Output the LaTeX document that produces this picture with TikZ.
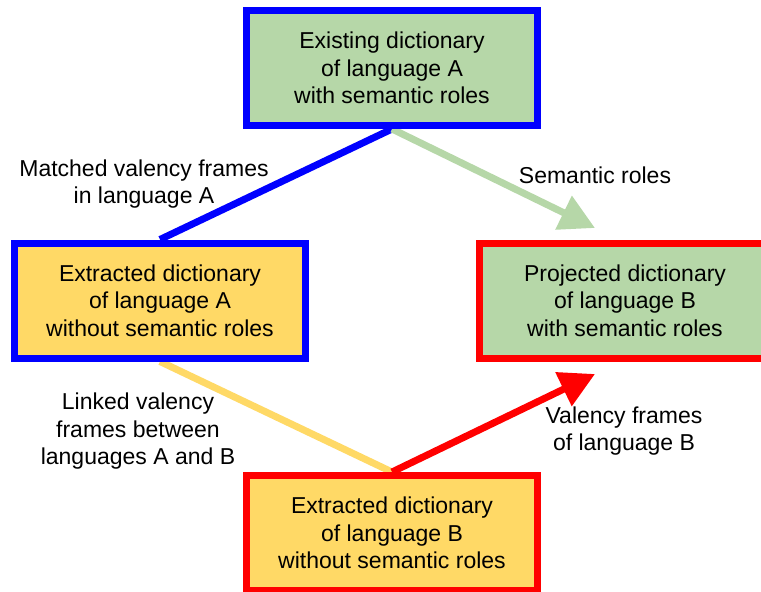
\documentclass[tikz,border=0pt]{standalone}
\usepackage{fontspec}
\setmainfont{Liberation Sans}
\usetikzlibrary{arrows.meta,backgrounds}
\definecolor{boxgreen}{HTML}{B6D7A8}
\definecolor{boxyellow}{HTML}{FFD966}
\definecolor{frameblue}{HTML}{0000FF}
\definecolor{framered}{HTML}{FF0000}
\tikzset{
  dictbox/.style={draw, line width=7pt, minimum width=291pt, minimum height=115pt,
    align=center, inner sep=0pt, font=\fontsize{23}{27.5}\selectfont},
  lbl/.style={align=center, inner sep=0pt, font=\fontsize{23}{27.5}\selectfont},
  link/.style={line width=7pt},
  flow/.style={line width=7pt, -{Triangle[length=35pt,width=36pt]}}
}
\begin{document}
\begin{tikzpicture}[x=1pt,y=-1pt]
\useasboundingbox (0,0) rectangle (761,592);
\begin{scope}
\clip (0,0) rectangle (761,592);
% dictionaries
\node[dictbox, draw=frameblue, fill=boxgreen] (exA) at (392,68) {Existing dictionary\\of language A\\with semantic roles};
\node[dictbox, draw=frameblue, fill=boxyellow] (extA) at (160,300.5) {Extracted dictionary\\of language A\\without semantic roles};
\node[dictbox, draw=framered, fill=boxgreen] (projB) at (625,300.5) {Projected dictionary\\of language B\\with semantic roles};
\node[dictbox, draw=framered, fill=boxyellow] (extB) at (392,533) {Extracted dictionary\\of language B\\without semantic roles};
\coordinate (semtip) at (595,228);
\coordinate (valtip) at (595,374);
% connectors behind the boxes
\begin{scope}[on background layer]
\draw[link, frameblue] (exA.south) -- (extA.north);
\draw[link, boxyellow] (extA.south) -- (extB.north);
\draw[flow, boxgreen] (exA.south) -- (semtip);
\draw[flow, framered] (extB.north) -- (valtip);
\end{scope}
% connector labels
\node[lbl] (lmatch) at (144,184) {Matched valency frames\\in language A};
\node[lbl] (lsem) at (595,175) {Semantic roles};
\node[lbl] (llink) at (138,431.5) {Linked valency\\frames between\\languages A and B};
\node[lbl] (lval) at (624,431) {Valency frames\\of language B};
\end{scope}
\end{tikzpicture}
\end{document}
